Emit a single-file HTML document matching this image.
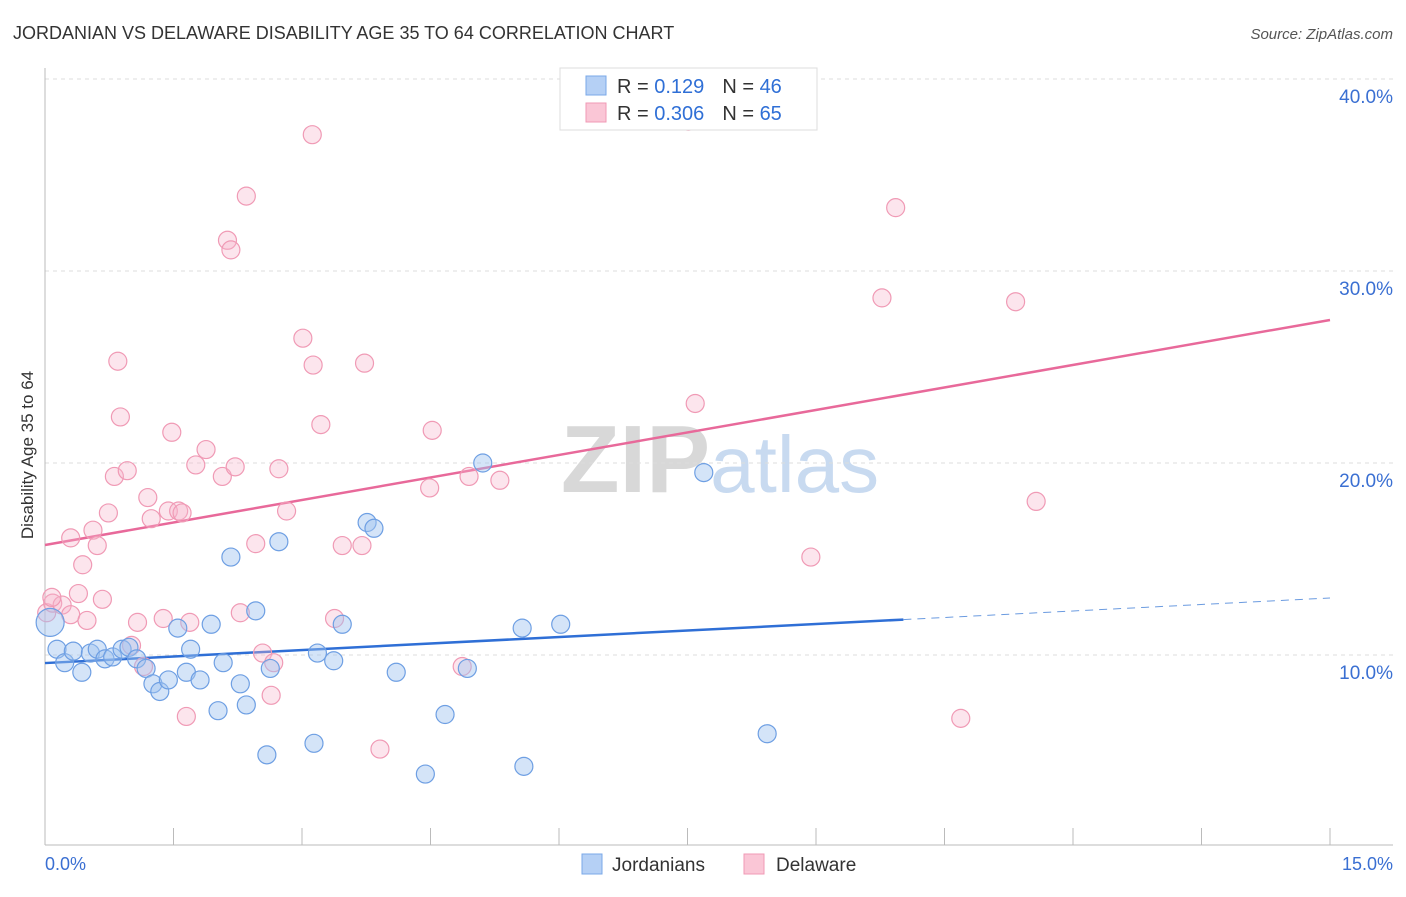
<!DOCTYPE html>
<html><head><meta charset="utf-8"><style>
body{margin:0;background:#fff;font-family:"Liberation Sans",sans-serif}
svg text{font-family:"Liberation Sans",sans-serif}
</style></head><body>
<svg id="chart" width="1406" height="892" xmlns="http://www.w3.org/2000/svg">
<text x="13" y="39" font-size="18" fill="#333">JORDANIAN VS DELAWARE DISABILITY AGE 35 TO 64 CORRELATION CHART</text>
<text x="1393" y="39" font-size="15" fill="#555" text-anchor="end" font-style="italic">Source: ZipAtlas.com</text>
<text x="720" y="492" font-size="96" text-anchor="middle" fill="#ddd" font-family="Liberation Serif"><tspan font-weight="bold" fill="#d8d8d8">ZIP</tspan><tspan fill="#c8daf0" font-family="Liberation Sans" font-size="80">atlas</tspan></text>
<text transform="translate(33,455) rotate(-90)" font-size="17" fill="#333" text-anchor="middle">Disability Age 35 to 64</text>
<g id="grid"></g><g id="axes"></g><g id="trend"></g><g id="pts"></g>
<g>
<rect x="560" y="68" width="257" height="62" fill="#fff" stroke="#ddd"/>
<rect x="586" y="76" width="20" height="19" fill="#b5d0f5" stroke="#7aa8e8"/>
<rect x="586" y="103" width="20" height="19" fill="#fac6d6" stroke="#f09ab5"/>
<text x="617" y="93" font-size="20" fill="#333">R = <tspan fill="#2f6fd6"> 0.129</tspan><tspan dx="18" fill="#333">N = </tspan><tspan fill="#2f6fd6">46</tspan></text>
<text x="617" y="120" font-size="20" fill="#333">R = <tspan fill="#2f6fd6">0.306</tspan><tspan dx="18" fill="#333">N = </tspan><tspan fill="#2f6fd6">65</tspan></text>
</g>
<g>
<rect x="582" y="854" width="20" height="20" fill="#b5d0f5" stroke="#7aa8e8"/>
<text x="612" y="871" font-size="19" fill="#333">Jordanians</text>
<rect x="744" y="854" width="20" height="20" fill="#fac6d6" stroke="#f09ab5"/>
<text x="776" y="871" font-size="19" fill="#333">Delaware</text>
</g>
</svg>
<script>
const yTicks=[10,20,30,40];
const yTickLabels=["10.0%","20.0%","30.0%","40.0%"];
const xTickLabels=["0.0%","15.0%"];
const blueX=[0.06,0.14,0.23,0.33,0.43,0.53,0.61,0.70,0.79,0.90,0.98,1.07,1.18,1.26,1.34,1.44,1.55,1.65,1.70,1.81,1.94,2.02,2.08,2.17,2.28,2.35,2.46,2.59,2.63,2.73,3.14,3.18,3.37,3.47,3.76,3.84,4.10,4.44,4.67,4.93,5.11,5.57,5.59,6.02,7.69,8.43];
const blueY=[11.7,10.3,9.6,10.2,9.1,10.1,10.3,9.8,9.9,10.3,10.4,9.8,9.3,8.5,8.1,8.7,11.4,9.1,10.3,8.7,11.6,7.1,9.6,15.1,8.5,7.4,12.3,4.8,9.3,15.9,5.4,10.1,9.7,11.6,16.9,16.6,9.1,3.8,6.9,9.3,20.0,11.4,4.2,11.6,19.5,5.9];
const pinkX=[0.02,0.09,0.20,0.30,0.30,0.39,0.44,0.49,0.56,0.61,0.67,0.74,0.81,0.85,0.88,0.96,1.01,1.08,1.15,1.20,1.24,1.38,1.44,1.48,1.56,1.60,1.65,1.69,1.76,1.88,2.07,2.13,2.17,2.22,2.28,2.35,2.46,2.54,2.64,2.67,2.73,2.82,3.01,3.12,3.13,3.22,3.38,3.47,3.70,3.73,3.91,4.49,4.52,4.87,4.95,5.31,7.51,7.59,8.94,9.77,9.93,10.69,11.33,11.57,0.08];
const pinkY=[12.2,12.7,12.6,12.1,16.1,13.2,14.7,11.8,16.5,15.7,12.9,17.4,19.3,25.3,22.4,19.6,10.5,11.7,9.4,18.2,17.1,11.9,17.5,21.6,17.5,17.4,6.8,11.7,19.9,20.7,19.3,31.6,31.1,19.8,12.2,33.9,15.8,10.1,7.9,9.6,19.7,17.5,26.5,37.1,25.1,22.0,11.9,15.7,15.7,25.2,5.1,18.7,21.7,9.4,19.3,19.1,37.8,23.1,15.1,28.6,33.3,6.7,28.4,18.0,13.0];
const blueTrend=[9.58,12.97], blueSolidEnd=10.02;
const pinkTrend=[15.73,27.45];
const NS="http://www.w3.org/2000/svg";
const X=v=>45+v*1285/15, Y=v=>655-(v-10)*19.2;
function mk(parent,tag,attrs){const e=document.createElementNS(NS,tag);for(const k in attrs)e.setAttribute(k,attrs[k]);document.getElementById(parent).appendChild(e);return e;}
yTicks.forEach((t,i)=>{
 const l=mk('grid','line',{x1:45,x2:1393,y1:Y(t),y2:Y(t),stroke:'#ddd','stroke-dasharray':'4,4'});
 
 
 const tx=mk('grid','text',{x:1393,y:Y(t)+24,'font-size':19,fill:'#3a6fd2','text-anchor':'end'});
 tx.textContent=yTickLabels[i];
 
 
});
const ax=mk('axes','line',{x1:45,x2:45,y1:68,y2:845,stroke:'#bbb'});


const bx=mk('axes','line',{x1:45,x2:1393,y1:845,y2:845,stroke:'#bbb'});


for(let i=0;i<=10;i++){const t=mk('axes','line',{x1:X(i*1.5),x2:X(i*1.5),y1:828,y2:845,stroke:'#bbb'});
 
 }
[[0,'start',45],[15,'end',1393]].forEach((d,i)=>{const t=mk('axes','text',{x:d[2],y:870,'font-size':18,fill:'#3a6fd2','text-anchor':d[1]});t.textContent=xTickLabels[i];
 
 });
function tl(a,x1,x2,col,dash,name){const yv=x=>a[0]+(a[1]-a[0])*x/15;
 const l=mk('trend','line',{x1:X(x1),x2:X(x2),y1:Y(yv(x1)),y2:Y(yv(x2)),stroke:col,'stroke-width':dash?1:2.5});
 if(dash)l.setAttribute('stroke-dasharray','8,6');
 
 }
tl(pinkTrend,0,15,'#e8699a',false,'delaware-trendline');
tl(blueTrend,0,blueSolidEnd,'#2f6fd6',false,'jordanians-trendline');
tl(blueTrend,blueSolidEnd,15,'#6b9be0',true,'jordanians-trendline-extension');
function pts(xs,ys,fill,stroke,name){xs.forEach((x,i)=>{const c=mk('pts','circle',{cx:X(x),cy:Y(ys[i]),r:(i===0&&name==='jordanian-point')?14:9,fill:fill,stroke:stroke,'stroke-width':1.2});
 
 });}
pts(pinkX,pinkY,'rgba(247,180,202,0.35)','#f09ab5','delaware-point');
pts(blueX,blueY,'rgba(160,196,240,0.45)','#6e9fe3','jordanian-point');
</script>
</body></html>
